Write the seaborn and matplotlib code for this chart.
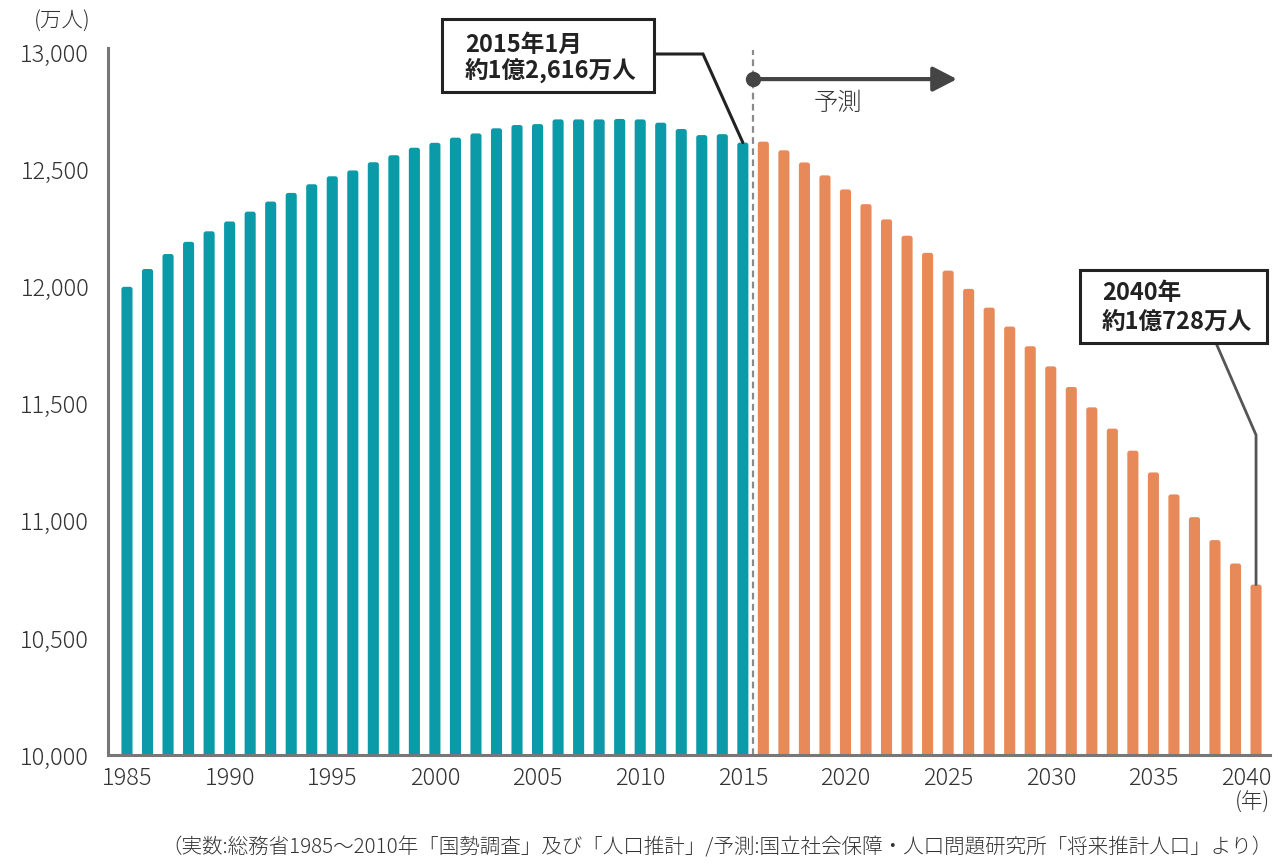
import numpy as np
import pandas as pd
import matplotlib
matplotlib.use("Agg")
import matplotlib.pyplot as plt
from matplotlib.patches import FancyBboxPatch, Rectangle
from matplotlib.lines import Line2D
from matplotlib.transforms import ScaledTranslation
import seaborn as sns

# Population of Japan (10,000 persons): census/estimates, then projection
actual_years = list(range(1985, 2016))
actual_pop = [12000, 12076, 12140, 12192, 12237, 12279, 12321, 12364, 12401, 12438,
              12472, 12497, 12532, 12562, 12594, 12615, 12637, 12655, 12677, 12691,
              12695, 12715, 12715, 12715, 12717, 12715, 12701, 12674, 12648, 12652,
              12616]
forecast_years = list(range(2016, 2041))
forecast_pop = [12620, 12583, 12531, 12476, 12416, 12353, 12288, 12218, 12145, 12069,
                11991, 11911, 11830, 11746, 11660, 11572, 11485, 11394, 11300, 11207,
                11113, 11016, 10918, 10818, 10728]
period_names = ["実数", "予測"]
period_colors = {"実数": "#0b9aa8", "予測": "#e8895a"}
ytick_values = [10000, 10500, 11000, 11500, 12000, 12500, 13000]
xtick_years = [1985, 1990, 1995, 2000, 2005, 2010, 2015, 2020, 2025, 2030, 2035, 2040]

note_2015 = ["2015年1月", "約1億2,616万人"]
note_2040 = ["2040年", "約1億728万人"]
forecast_label = "予測"
unit_label = "(万人)"
year_unit_label = "(年)"
source_text = "（実数:総務省1985～2010年「国勢調査」及び「人口推計」/予測:国立社会保障・人口問題研究所「将来推計人口」より）"

df = pd.DataFrame({
    "year": [str(y) for y in actual_years + forecast_years],
    "pop": actual_pop + forecast_pop,
    "period": [period_names[0]] * len(actual_years) + [period_names[1]] * len(forecast_years),
})

sns.set_theme(style="white")
plt.rcParams["font.family"] = ["Noto Sans CJK JP", "DejaVu Sans"]

W, H = 1278, 864
fig = plt.figure(figsize=(W / 100, H / 100), dpi=100)
fig.patch.set_facecolor("white")


def fx(px):
    return px / W


def fy(py):
    return 1 - py / H


ax = fig.add_axes([fx(108), fy(755), (1270 - 108) / W, (755 - 48) / H])
order = df["year"].tolist()
sns.barplot(data=df, x="year", y="pop", hue="period", palette=period_colors,
            order=order, hue_order=period_names, dodge=False, width=0.54,
            saturation=1, legend=False, ax=ax)

ax.set_xlim(-0.925, 55.68)
ax.set_ylim(10000, 13020)

# Replace plain rectangles with bars that have slightly rounded tops
p0 = ax.transData.transform((0, 10000))
p1 = ax.transData.transform((1, 10001))
px_per_x = p1[0] - p0[0]
px_per_y = p1[1] - p0[1]
radius_px = 2.5
rx = radius_px / px_per_x
aspect = px_per_x / px_per_y
for bar in list(ax.patches):
    h = bar.get_height()
    if h is None or np.isnan(h) or h == 0:
        bar.remove()
        continue
    x, w = bar.get_x(), bar.get_width()
    fc = bar.get_facecolor()
    bar.remove()
    ax.add_patch(FancyBboxPatch((x, 0), w, h,
                                boxstyle=f"round,pad=0,rounding_size={rx}",
                                mutation_aspect=aspect, facecolor=fc,
                                edgecolor="none", zorder=2))

# Axes styling
sns.despine(ax=ax)
for side in ["left", "bottom"]:
    ax.spines[side].set_color("#777777")
    ax.spines[side].set_linewidth(2.2)
    ax.spines[side].set_zorder(4)
ax.set_yticks(ytick_values)
ax.set_yticklabels([f"{v:,}" for v in ytick_values])
ax.set_xticks([y - actual_years[0] for y in xtick_years])
ax.set_xticklabels([str(y) for y in xtick_years])
ax.tick_params(axis="y", length=0, pad=13.5, labelsize=17, labelcolor="#333333")
ax.tick_params(axis="x", length=0, pad=8, labelsize=17, labelcolor="#333333")
for lbl in ax.get_xticklabels() + ax.get_yticklabels():
    lbl.set_fontweight("light")
# keep the last year label inside the figure
last_lbl = ax.get_xticklabels()[-1]
last_lbl.set_transform(last_lbl.get_transform()
                       + ScaledTranslation(-0.10, 0, fig.dpi_scale_trans))
ax.set_xlabel("")
ax.set_ylabel("")
ax.grid(False)

# Boundary between actual values and projection
split_x = len(actual_years) - 0.5
ax.axvline(split_x, ymin=0, ymax=0.997, color="#8a8a8a", lw=1.6,
           ls=(0, (3, 2)), zorder=3)

# Projection arrow
xt = ax.get_xaxis_transform()
arrow_y = 0.956
arrow_tip = split_x + 9.93
ax.annotate("", xy=(arrow_tip, arrow_y), xytext=(split_x, arrow_y),
            xycoords=xt, textcoords=xt,
            arrowprops=dict(arrowstyle="-|>,head_length=1.45,head_width=0.75",
                            mutation_scale=10, lw=3.0, color="#444444",
                            shrinkA=0, shrinkB=0), zorder=5)
ax.plot([split_x], [arrow_y], marker="o", ms=10, color="#444444",
        transform=xt, clip_on=False, zorder=6)
ax.text(split_x + 4.13, 0.922, forecast_label, transform=xt, ha="center",
        va="center", fontsize=17.5, color="#333333", fontweight="light")

# Callout boxes with leader lines to the bar tops
inv = fig.transFigure.inverted()


def bar_top(index, value):
    return inv.transform(ax.transData.transform((index, value)))


def callout(box, lines, text_x, text_ys, path_px, target, color, lw):
    x0, y0, x1, y1 = box
    fig.add_artist(Rectangle((fx(x0), fy(y1)), (x1 - x0) / W, (y1 - y0) / H,
                             transform=fig.transFigure, facecolor="white",
                             edgecolor="#222222", lw=2.2, zorder=10))
    for line, ty in zip(lines, text_ys):
        fig.text(fx(text_x), fy(ty), line, fontsize=17, fontweight="bold",
                 color="#222222", ha="left", va="center", zorder=11)
    xs = [fx(p[0]) if p[0] is not None else target[0] for p in path_px] + [target[0]]
    ys = [fy(p[1]) for p in path_px] + [target[1]]
    fig.add_artist(Line2D(xs, ys, transform=fig.transFigure, color=color,
                          lw=lw, zorder=9, solid_joinstyle="miter"))


top_2015 = bar_top(len(actual_years) - 1, actual_pop[-1])
callout((442, 19, 654, 92), note_2015, 465, [45, 70],
        [(654, 54), (703, 54)], top_2015, "#222222", 2.2)

top_2040 = bar_top(len(actual_years) + len(forecast_years) - 1, forecast_pop[-1])
callout((1080, 270, 1267, 343), note_2040, 1102, [293, 322],
        [(1216, 343), (None, 435)], top_2040, "#555555", 2.0)

# Units and source
fig.text(fx(62), fy(22), unit_label, ha="center", va="center", fontsize=15.5,
         color="#333333", fontweight="light")
fig.text(fx(1270), fy(803), year_unit_label, ha="right", va="center",
         fontsize=15.5, color="#333333", fontweight="light")
fig.text(fx(1272), fy(848), source_text, ha="right", va="center",
         fontsize=14.8, color="#333333", fontweight="light")

fig.savefig("out.png", dpi=100, facecolor="white")
